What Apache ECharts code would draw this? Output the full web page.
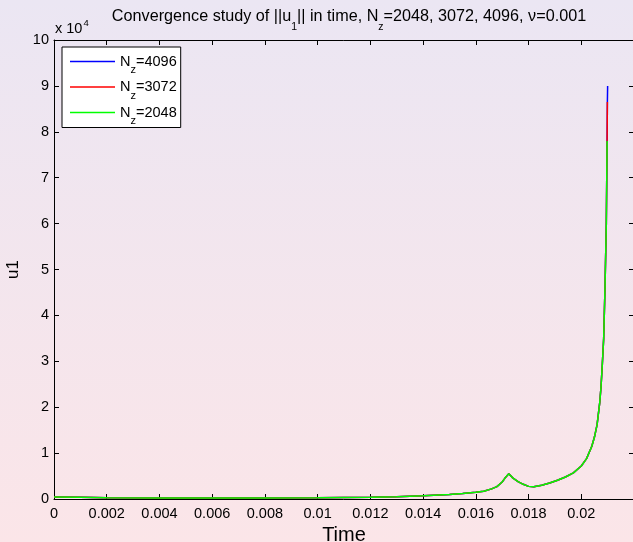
<!DOCTYPE html>
<html>
<head>
<meta charset="utf-8">
<script src="https://cdn.jsdelivr.net/npm/echarts@6/dist/echarts.min.js"></script>
<style>
  html, body { margin: 0; padding: 0; }
  #chart { width: 633px; height: 542px; }
</style>
</head>
<body>
<div id="chart"></div>
<script>
// Time samples shared by all three resolutions (the curves coincide here)
const timeBase = [0, 0.001, 0.002, 0.004, 0.006, 0.008, 0.010, 0.012, 0.013, 0.014,
  0.015, 0.0155, 0.016, 0.0163, 0.0166, 0.0168, 0.0170, 0.0171, 0.01725, 0.0174,
  0.0176, 0.0178, 0.0180, 0.0182, 0.0185, 0.0188, 0.0191, 0.0194, 0.0197, 0.0200,
  0.0202, 0.0204, 0.0205, 0.0206, 0.0207, 0.02075, 0.0208, 0.02085, 0.0209, 0.02095];
// ||u1|| at those times
const u1Base = [450, 380, 250, 200, 200, 220, 260, 390, 500, 700,
  1000, 1200, 1450, 1700, 2200, 2700, 3700, 4500, 5500, 4600,
  3800, 3200, 2750, 2650, 3000, 3500, 4100, 4800, 5700, 7200,
  8800, 11500, 13500, 16200, 21000, 24500, 29500, 35000, 46000, 60000];

// Last samples before blow-up, per resolution
const timeTail4096 = [0.02098, 0.02099, 0.02100];
const u1Tail4096 = [78000, 86500, 90000];
const timeTail3072 = [0.02098, 0.02099];
const u1Tail3072 = [78000, 86500];
const timeTail2048 = [0.02098];
const u1Tail2048 = [78000];

const seriesNames = ['4096', '3072', '2048'];
const seriesColors = ['#0000ff', '#ff0000', '#00ff00'];

// Axis ranges and tick steps
const xMin = 0, xMax = 0.022, xStep = 0.002;
const yMin = 0, yMax = 100000, yStep = 10000;
const yScale = 10000;

function pairs(ts, us) { return ts.map((t, i) => [t, us[i]]); }

const tails = [
  [timeTail4096, u1Tail4096],
  [timeTail3072, u1Tail3072],
  [timeTail2048, u1Tail2048]
];

const FONT = 'Liberation Sans, Arial, Helvetica, sans-serif';

const chart = echarts.init(document.getElementById('chart'), null, { renderer: 'canvas' });

const xLabel = v => {
  if (v >= xMax - 1e-9) return '';
  return String(+v.toFixed(4));
};

const tickInside = { show: true, inside: true, length: 5, lineStyle: { color: '#000', width: 1 } };
const axisLineBlack = { show: true, onZero: false, lineStyle: { color: '#000', width: 1 } };

chart.setOption({
  animation: false,
  backgroundColor: {
    type: 'linear', x: 0, y: 0, x2: 0, y2: 1,
    colorStops: [{ offset: 0, color: '#ebe6f3' }, { offset: 1, color: '#fbe5e8' }]
  },
  textStyle: { fontFamily: FONT },
  title: {
    text: 'Convergence study of ||u{s|1}|| in time, N{s|z}=2048, 3072, 4096, \u03bd=0.001',
    left: 344,
    top: -4,
    textAlign: 'center',
    textStyle: {
      fontFamily: FONT, fontSize: 16.2, fontWeight: 'normal', color: '#000',
      rich: { s: { fontFamily: FONT, fontSize: 10.5, color: '#000', padding: [21, 0, 0, 0] } }
    }
  },
  graphic: [{
    type: 'text',
    left: 55,
    top: 18,
    style: {
      text: '{a|x 10}{p|4}',
      rich: {
        a: { fontFamily: FONT, fontSize: 14.5, fill: '#000', padding: [6, 0, 0, 0] },
        p: { fontFamily: FONT, fontSize: 9.5, fill: '#000', padding: [0, 0, 6, 1] }
      }
    }
  }],
  legend: {
    left: 62,
    top: 47,
    orient: 'vertical',
    backgroundColor: '#ffffff',
    borderColor: '#000',
    borderWidth: 1,
    borderRadius: 0,
    padding: [7, 4, 1, 8],
    itemWidth: 45,
    itemHeight: 1.5,
    itemGap: 4,
    icon: 'path://M0,0 H45 V1.5 H0 Z',
    data: seriesNames.map(n => 'Nz=' + n),
    formatter: name => 'N{s|z}=' + name.split('=')[1],
    textStyle: {
      fontFamily: FONT, fontSize: 14.5, color: '#000',
      rich: { s: { fontFamily: FONT, fontSize: 11, color: '#000', padding: [17, 0, 0, 0] } }
    }
  },
  grid: { left: 54, top: 40, right: -1, bottom: 43, outerBoundsMode: 'none', containLabel: false },
  xAxis: [{
    type: 'value', min: xMin, max: xMax, interval: xStep, position: 'bottom',
    name: 'Time', nameLocation: 'middle', nameGap: 22,
    nameTextStyle: { fontFamily: FONT, fontSize: 20, color: '#000' },
    axisLine: axisLineBlack, axisTick: tickInside, splitLine: { show: false },
    axisLabel: { color: '#000', fontSize: 14.5, fontFamily: FONT, margin: 7, formatter: xLabel, showMaxLabel: true }
  }, {
    type: 'value', min: xMin, max: xMax, interval: xStep, position: 'top',
    axisLine: axisLineBlack, axisTick: tickInside, splitLine: { show: false },
    axisLabel: { show: false }
  }],
  yAxis: [{
    type: 'value', min: yMin, max: yMax, interval: yStep, position: 'left',
    name: 'u1', nameLocation: 'middle', nameGap: 25,
    nameTextStyle: { fontFamily: FONT, fontSize: 17, color: '#000' },
    axisLine: axisLineBlack, axisTick: tickInside, splitLine: { show: false },
    axisLabel: { color: '#000', fontSize: 14.5, fontFamily: FONT, margin: 5, formatter: v => String(v / yScale) }
  }, {
    type: 'value', min: yMin, max: yMax, interval: yStep, position: 'right',
    axisLine: axisLineBlack, axisTick: tickInside, splitLine: { show: false },
    axisLabel: { show: false }
  }],
  series: seriesNames.map((n, i) => ({
    name: 'Nz=' + n,
    type: 'line',
    xAxisIndex: 0,
    yAxisIndex: 0,
    symbol: 'none',
    smooth: false,
    lineStyle: { color: seriesColors[i], width: 1.5 },
    itemStyle: { color: seriesColors[i] },
    data: pairs(timeBase.concat(tails[i][0]), u1Base.concat(tails[i][1]))
  }))
});
</script>
</body>
</html>
